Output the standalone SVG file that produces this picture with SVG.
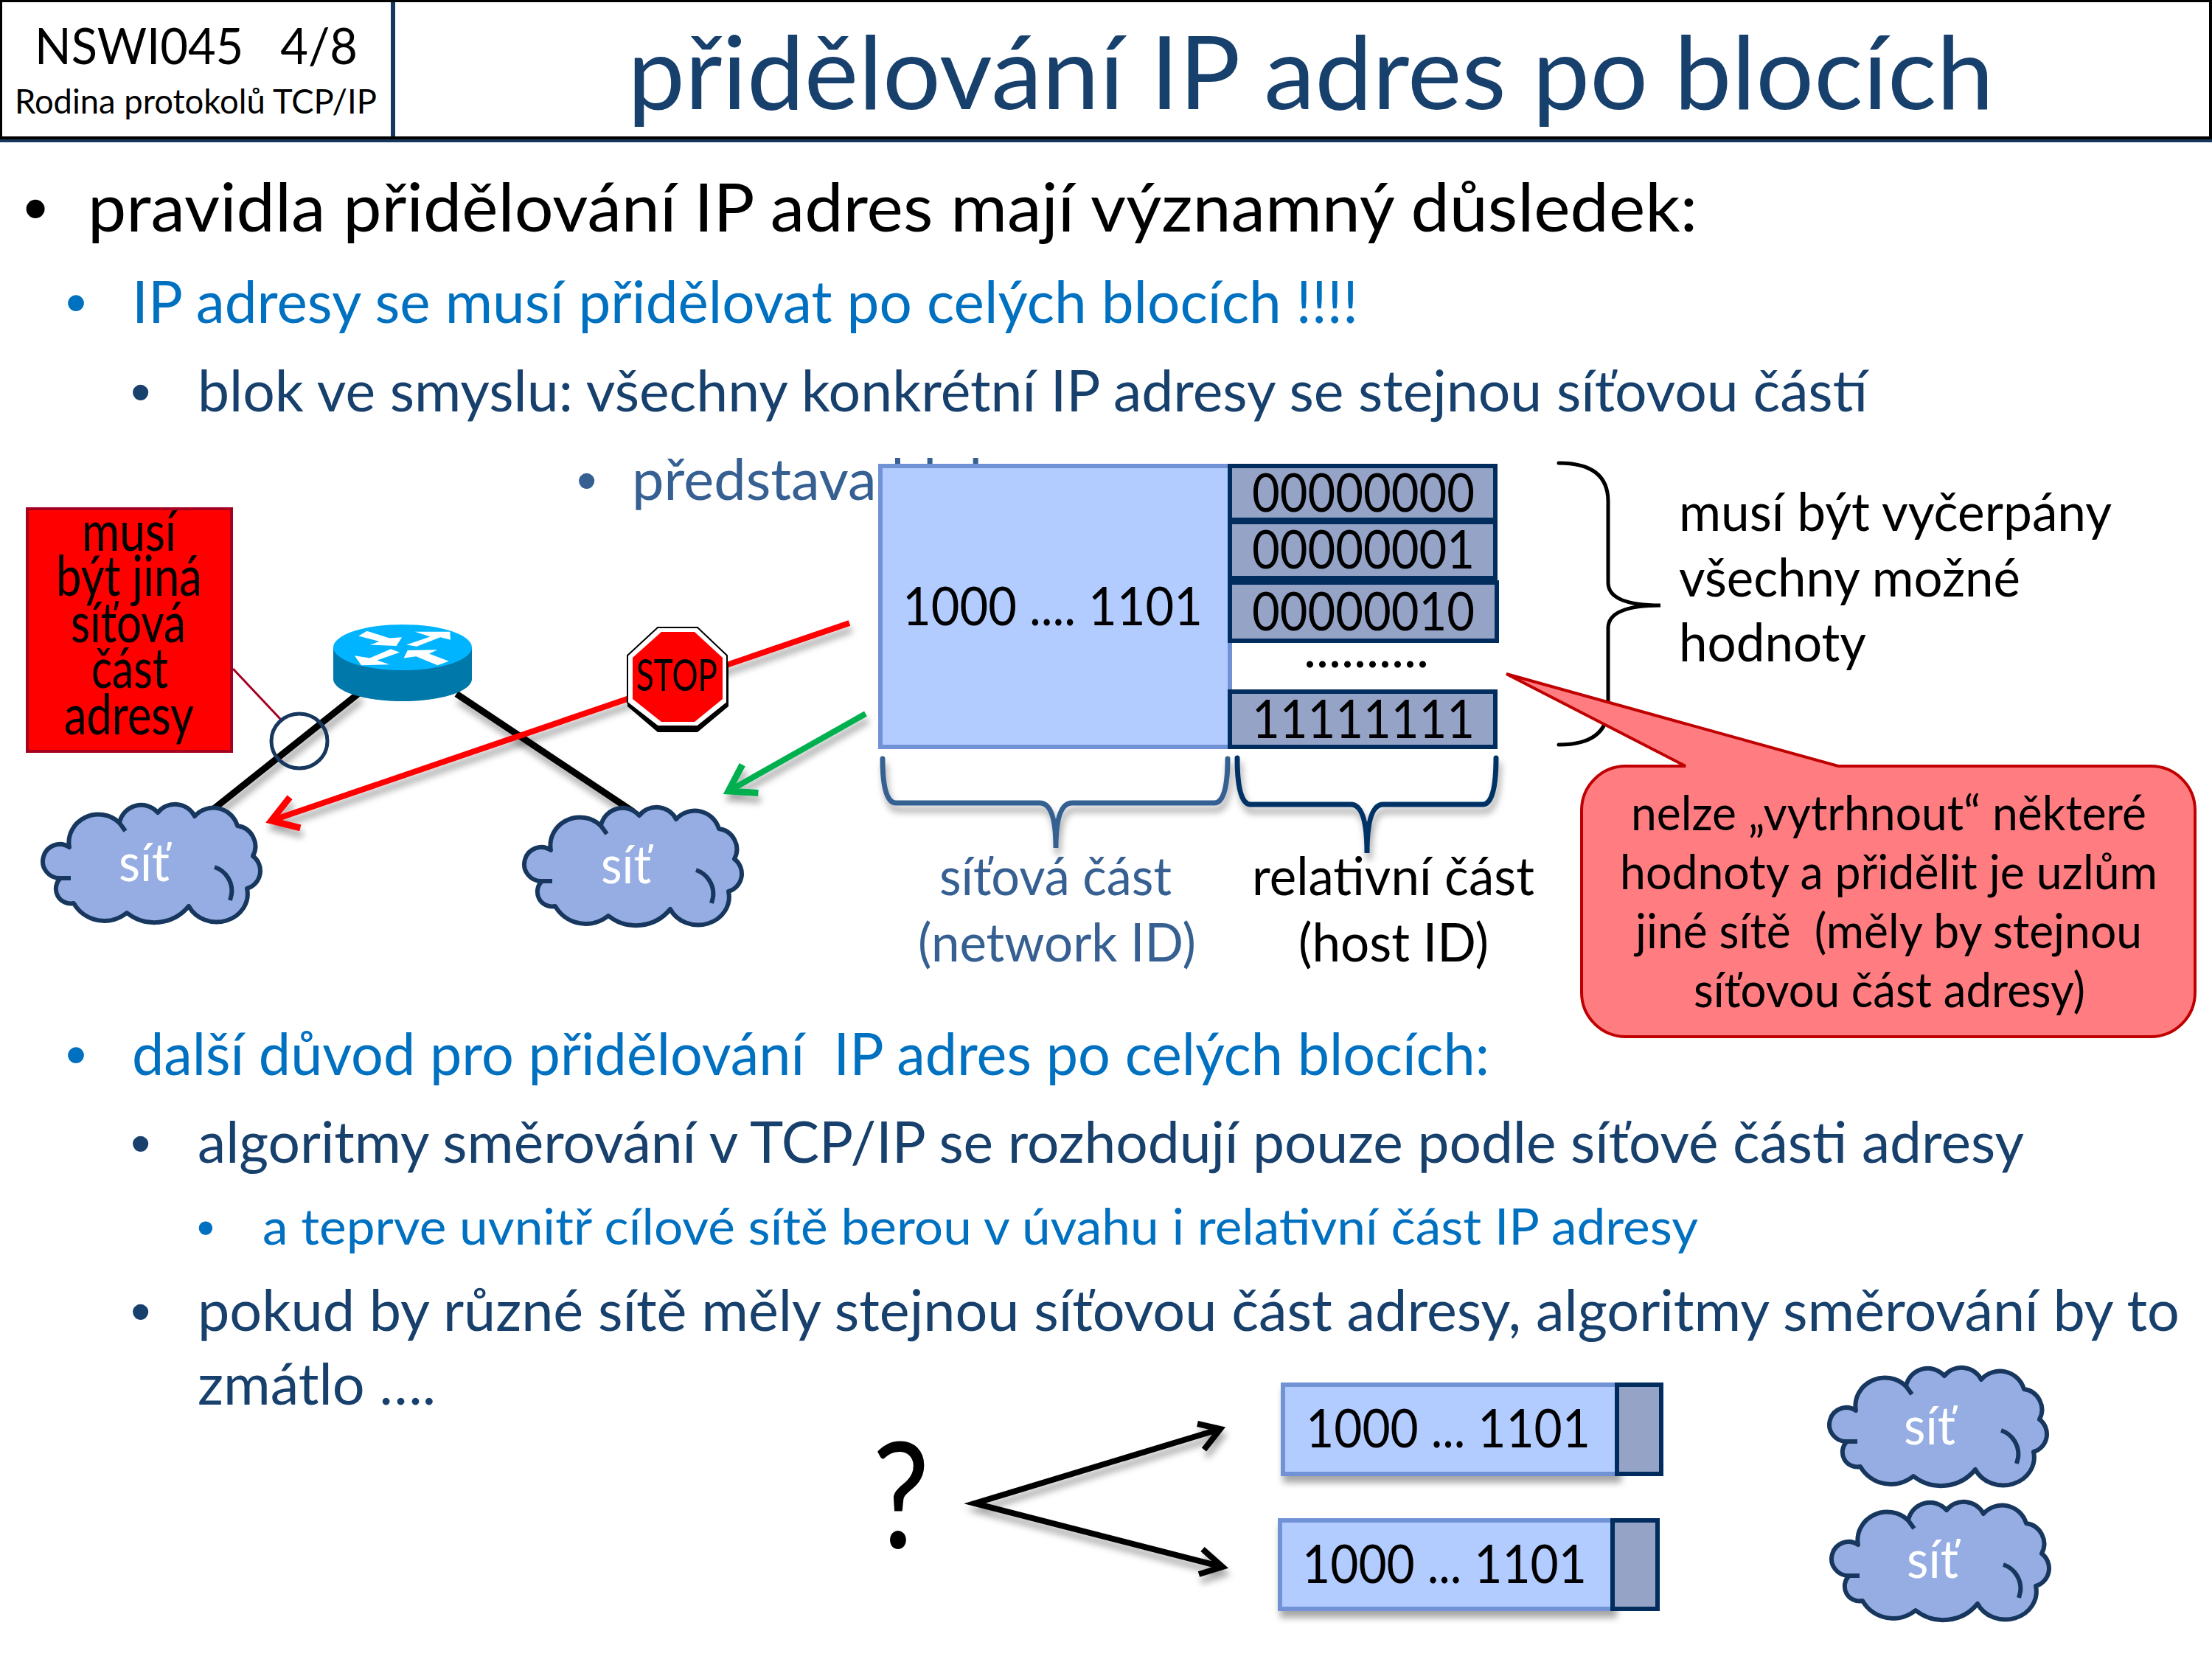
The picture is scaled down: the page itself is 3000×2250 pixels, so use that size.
<svg xmlns="http://www.w3.org/2000/svg" width="3000" height="2250" viewBox="0 0 3000 2250">
<style>
text{font-family:Lato,"Liberation Sans",sans-serif;white-space:pre}
text.bu{font-family:"Liberation Sans",sans-serif}
.k{fill:#000}.b{fill:#0070C0}.n{fill:#17406D}.s{fill:#366092}.w{fill:#fff}
.cell{fill:#95A3C6;stroke:#002C5E;stroke-width:6}
.blue{fill:#B2CCFF;stroke:#7292D6;stroke-width:6}
.cl{fill:#95ADE3;stroke:#17375E;stroke-width:6;stroke-linejoin:round}
.clin{fill:none;stroke:#17375E;stroke-width:6}
.d{font-size:72px}.lab{font-size:72px}.rb{font-size:76px}
.c{font-size:66px}
.h1{font-size:92px}.h2{font-size:80px}.h3{font-size:78px}.h4{font-size:68px}
.ln{fill:none;stroke-linecap:butt}
</style>
<defs>
<filter id="sh" x="-20%" y="-20%" width="140%" height="150%"><feDropShadow dx="3" dy="9" stdDeviation="5" flood-color="#000" flood-opacity=".35"/></filter>
<marker id="mr" markerUnits="userSpaceOnUse" markerWidth="60" markerHeight="60" refX="44" refY="30" orient="auto"><path d="M10 8L44 30L10 52" fill="none" stroke="#FF0000" stroke-width="9"/></marker>
<marker id="mg" markerUnits="userSpaceOnUse" markerWidth="60" markerHeight="60" refX="44" refY="30" orient="auto"><path d="M10 8L44 30L10 52" fill="none" stroke="#00B050" stroke-width="9"/></marker>
<marker id="mk" markerUnits="userSpaceOnUse" markerWidth="60" markerHeight="60" refX="44" refY="30" orient="auto"><path d="M10 8L44 30L10 52" fill="none" stroke="#000" stroke-width="8"/></marker>
<g id="cloud">
<path class="cl" d="M22 100A23 23 0 1 1 34 58A40 38 0 0 1 102 25A30 30 0 0 1 154 11A30 30 0 0 1 204 16A34 34 0 0 1 262 29A28 28 0 0 1 283 70A25 25 0 0 1 275 114A42 38 0 0 1 196 138A60 60 0 0 1 112 147A48 48 0 0 1 40 134A20 20 0 0 1 22 100Z"/>
<path class="clin" d="M231 85A34 34 0 0 1 254 122L252 130M22 100L36 100M102 25L110 36"/>
</g>
</defs>
<rect width="3000" height="2250" fill="#fff"/>

<g id="header">
<rect x="0" y="0" width="3000" height="3" fill="#000"/>
<rect x="0" y="0" width="3" height="189" fill="#000"/>
<rect x="2996" y="0" width="4" height="189" fill="#000"/>
<rect x="0" y="185" width="3000" height="4" fill="#000"/>
<rect x="0" y="189" width="3000" height="4" fill="#17375E"/>
<rect x="530" y="3" width="6" height="182" fill="#17375E"/>
<text x="47" y="87" font-size="68" class="k" textLength="438" lengthAdjust="spacingAndGlyphs">NSWI045   4/8</text>
<text x="20" y="154" font-size="46" class="k" textLength="491" lengthAdjust="spacingAndGlyphs">Rodina protokolů TCP/IP</text>
<text x="851" y="148" font-size="138" fill="#17406D" textLength="1853" lengthAdjust="spacingAndGlyphs">přidělování IP adres po blocích</text>
</g>

<g id="text-top">
<text x="32" y="314" class="bu h1 k">•</text>
<text x="119" y="314" class="h1 k" textLength="2183" lengthAdjust="spacingAndGlyphs">pravidla přidělování IP adres mají významný důsledek:</text>
<text x="89" y="438" class="bu h2 b">•</text>
<text x="179" y="438" class="h2 b" textLength="1663" lengthAdjust="spacingAndGlyphs">IP adresy se musí přidělovat po celých blocích !!!!</text>
<text x="177" y="558" class="bu h3 n">•</text>
<text x="268" y="558" class="h3 n" textLength="2265" lengthAdjust="spacingAndGlyphs">blok ve smyslu: všechny konkrétní IP adresy se stejnou síťovou částí</text>
<text x="782" y="678" class="bu h3 s">•</text>
<text x="857" y="678" class="h3 s" textLength="540" lengthAdjust="spacingAndGlyphs">představa bloku</text>
</g>

<g id="block">
<rect class="blue" x="1194" y="632" width="474" height="381"/>
<rect class="cell" x="1668" y="632" width="360" height="73"/>
<rect class="cell" x="1668" y="708" width="360" height="76"/>
<rect class="cell" x="1668" y="790" width="362" height="79"/>
<rect class="cell" x="1668" y="938" width="360" height="75"/>
<text x="1224" y="848" class="d k" textLength="407" lengthAdjust="spacingAndGlyphs">1000 .... 1101</text>
<text x="1698" y="694" class="d k" textLength="302" lengthAdjust="spacingAndGlyphs">00000000</text>
<text x="1698" y="771" class="d k" textLength="302" lengthAdjust="spacingAndGlyphs">00000001</text>
<text x="1698" y="855" class="d k" textLength="302" lengthAdjust="spacingAndGlyphs">00000010</text>
<text x="1768" y="905" class="d k" textLength="170" lengthAdjust="spacing">..........</text>
<text x="1698" y="1001" class="d k" textLength="302" lengthAdjust="spacingAndGlyphs">11111111</text>
</g>

<g id="braces" fill="none" stroke-linecap="round">
<path stroke="#366092" stroke-width="7" filter="url(#sh)" d="M1197 1029Q1197 1089 1215 1089L1410 1089Q1432 1089 1432 1150Q1432 1089 1454 1089L1647 1089Q1665 1089 1665 1029"/>
<path stroke="#003366" stroke-width="7" filter="url(#sh)" d="M1678 1028Q1678 1091 1696 1091L1832 1091Q1854 1091 1854 1157Q1854 1091 1876 1091L2011 1091Q2029 1091 2029 1028"/>
<path stroke="#000" stroke-width="5" d="M2114 628Q2181 628 2181 680L2181 790Q2181 821 2252 821Q2181 821 2181 852L2181 958Q2181 1010 2114 1010"/>
</g>

<g id="labels">
<text x="1274" y="1214" class="lab s" textLength="315" lengthAdjust="spacingAndGlyphs">síťová část</text>
<text x="1245" y="1304" class="lab s" textLength="377" lengthAdjust="spacingAndGlyphs">(network ID)</text>
<text x="1698" y="1214" class="lab k" textLength="383" lengthAdjust="spacingAndGlyphs">relativní část</text>
<text x="1761" y="1304" class="lab k" textLength="258" lengthAdjust="spacingAndGlyphs">(host ID)</text>
<text x="2277" y="720" class="lab k" textLength="587" lengthAdjust="spacingAndGlyphs">musí být vyčerpány</text>
<text x="2277" y="809" class="lab k" textLength="463" lengthAdjust="spacingAndGlyphs">všechny možné</text>
<text x="2277" y="897" class="lab k" textLength="254" lengthAdjust="spacingAndGlyphs">hodnoty</text>
</g>

<g id="callout">
<path fill="#FF7C80" stroke="#C00000" stroke-width="4" d="M2205 1039L2286 1039L2043 914L2493 1039L2917 1039A60 60 0 0 1 2977 1099L2977 1346A60 60 0 0 1 2917 1406L2205 1406A60 60 0 0 1 2145 1346L2145 1099A60 60 0 0 1 2205 1039Z"/>
<text x="2212" y="1126" class="c k" textLength="699" lengthAdjust="spacingAndGlyphs">nelze „vytrhnout“ některé</text>
<text x="2197" y="1206" class="c k" textLength="729" lengthAdjust="spacingAndGlyphs">hodnoty a přidělit je uzlům</text>
<text x="2218" y="1286" class="c k" textLength="687" lengthAdjust="spacingAndGlyphs">jiné sítě  (měly by stejnou</text>
<text x="2297" y="1366" class="c k" textLength="531" lengthAdjust="spacingAndGlyphs">síťovou část adresy)</text>
</g>

<g id="connectors">
<path class="ln" stroke="#000" stroke-width="9" filter="url(#sh)" d="M487 940L286 1100"/>
<path class="ln" stroke="#000" stroke-width="9" filter="url(#sh)" d="M619 941L859 1101"/>
<path class="ln" stroke="#A50021" stroke-width="3" d="M316 907L381 976"/>
<path class="ln" stroke="#FF0000" stroke-width="8" filter="url(#sh)" marker-end="url(#mr)" d="M1152 845L368 1113"/>
<path class="ln" stroke="#00B050" stroke-width="8" filter="url(#sh)" marker-end="url(#mg)" d="M1174 968L988 1073"/>
<path class="ln" stroke="#000" stroke-width="8" filter="url(#sh)" d="M1624 1931L1655 1938L1633 1966M1655 1938L1322 2039L1658 2125M1631 2101L1658 2125L1626 2135"/>
<path class="ln" stroke="#000" stroke-width="8" filter="url(#sh)" marker-end="url(#mk)" d="M2298 1939L2450 1939"/>
<path class="ln" stroke="#000" stroke-width="8" filter="url(#sh)" marker-end="url(#mk)" d="M2293 2119L2445 2119"/>
</g>

<g id="note-red">
<rect x="37" y="690" width="277" height="329" fill="#FF0000" stroke="#A50021" stroke-width="4"/>
<text x="111" y="747" class="rb k" textLength="128" lengthAdjust="spacingAndGlyphs">musí</text>
<text x="76" y="808" class="rb k" textLength="198" lengthAdjust="spacingAndGlyphs">být jiná</text>
<text x="96" y="871" class="rb k" textLength="156" lengthAdjust="spacingAndGlyphs">síťová</text>
<text x="124" y="933" class="rb k" textLength="104" lengthAdjust="spacingAndGlyphs">část</text>
<text x="87" y="996" class="rb k" textLength="176" lengthAdjust="spacingAndGlyphs">adresy</text>
</g>
<ellipse id="marker-ellipse" cx="406" cy="1005" rx="38" ry="37" fill="none" stroke="#17375E" stroke-width="5"/>

<g id="router">
<path fill="#0078AA" d="M452 878L640 878L640 921A94 30 0 0 1 452 921Z"/>
<ellipse cx="546" cy="878" rx="94" ry="31" fill="#00B4FF"/>
<g fill="#fff" transform="matrix(.7657 0 0 .4464 0 600)">
<polygon points="635,588 650,573 690,595 712,592 702,618 655,615 672,605"/>
<polygon points="720,615 762,590 735,575 797,575 798,600 780,592 738,620"/>
<polygon points="628,648 655,655 692,628 708,638 668,662 690,675 640,677"/>
<polygon points="715,655 722,632 775,630 760,642 795,665 775,677 737,650"/>
</g>
</g>

<g id="stop">
<polygon fill="#000" points="892,860 946,860 988,900 988,958 946,993 892,993 851,958 851,900"/>
<polygon fill="#fff" stroke="#000" stroke-width="2" points="892,851 946,851 986,889 986,953 946,985 892,985 851,953 851,889"/>
<polygon fill="#FF0000" points="897,857 942,857 980,892 980,948 942,979 897,979 858,948 858,892"/>
<text x="863" y="937" font-size="60" class="k" textLength="110" lengthAdjust="spacingAndGlyphs">STOP</text>
</g>

<g id="net-left"><use href="#cloud" x="60" y="1091"/><text x="161" y="1195" class="lab w" textLength="69" lengthAdjust="spacingAndGlyphs">síť</text></g>
<g id="net-right"><use href="#cloud" x="713" y="1095"/><text x="815" y="1198" class="lab w" textLength="68" lengthAdjust="spacingAndGlyphs">síť</text></g>

<g id="text-bottom">
<text x="89" y="1458" class="bu h2 b">•</text>
<text x="179" y="1458" class="h2 b" textLength="1841" lengthAdjust="spacingAndGlyphs">další důvod pro přidělování  IP adres po celých blocích:</text>
<text x="177" y="1577" class="bu h3 n">•</text>
<text x="268" y="1577" class="h3 n" textLength="2477" lengthAdjust="spacingAndGlyphs">algoritmy směrování v TCP/IP se rozhodují pouze podle síťové části adresy</text>
<text x="267" y="1688" class="bu h4 b">•</text>
<text x="356" y="1688" class="h4 b" textLength="1947" lengthAdjust="spacingAndGlyphs">a teprve uvnitř cílové sítě berou v úvahu i relativní část IP adresy</text>
<text x="177" y="1805" class="bu h3 n">•</text>
<text x="268" y="1805" class="h3 n" textLength="2688" lengthAdjust="spacingAndGlyphs">pokud by různé sítě měly stejnou síťovou část adresy, algoritmy směrování by to</text>
<text x="268" y="1905" class="h3 n" textLength="323" lengthAdjust="spacingAndGlyphs">zmátlo ….</text>
</g>

<g id="question"><text x="1183" y="2100" font-size="200" class="k" textLength="78" lengthAdjust="spacingAndGlyphs">?</text></g>

<g id="block-1">
<rect class="blue" x="1740" y="1878" width="453" height="121" filter="url(#sh)"/>
<rect class="cell" x="2193" y="1878" width="60" height="121"/>
<text x="1771" y="1963" class="d k" textLength="386" lengthAdjust="spacingAndGlyphs">1000 ... 1101</text>
</g>
<g id="block-2">
<rect class="blue" x="1736" y="2062" width="451" height="120" filter="url(#sh)"/>
<rect class="cell" x="2187" y="2062" width="61" height="120"/>
<text x="1766" y="2147" class="d k" textLength="386" lengthAdjust="spacingAndGlyphs">1000 ... 1101</text>
</g>
<g id="net-1"><use href="#cloud" x="2483" y="1855"/><text x="2582" y="1959" class="lab w" textLength="70" lengthAdjust="spacingAndGlyphs">síť</text></g>
<g id="net-2"><use href="#cloud" x="2486" y="2037"/><text x="2586" y="2140" class="lab w" textLength="70" lengthAdjust="spacingAndGlyphs">síť</text></g>
</svg>
